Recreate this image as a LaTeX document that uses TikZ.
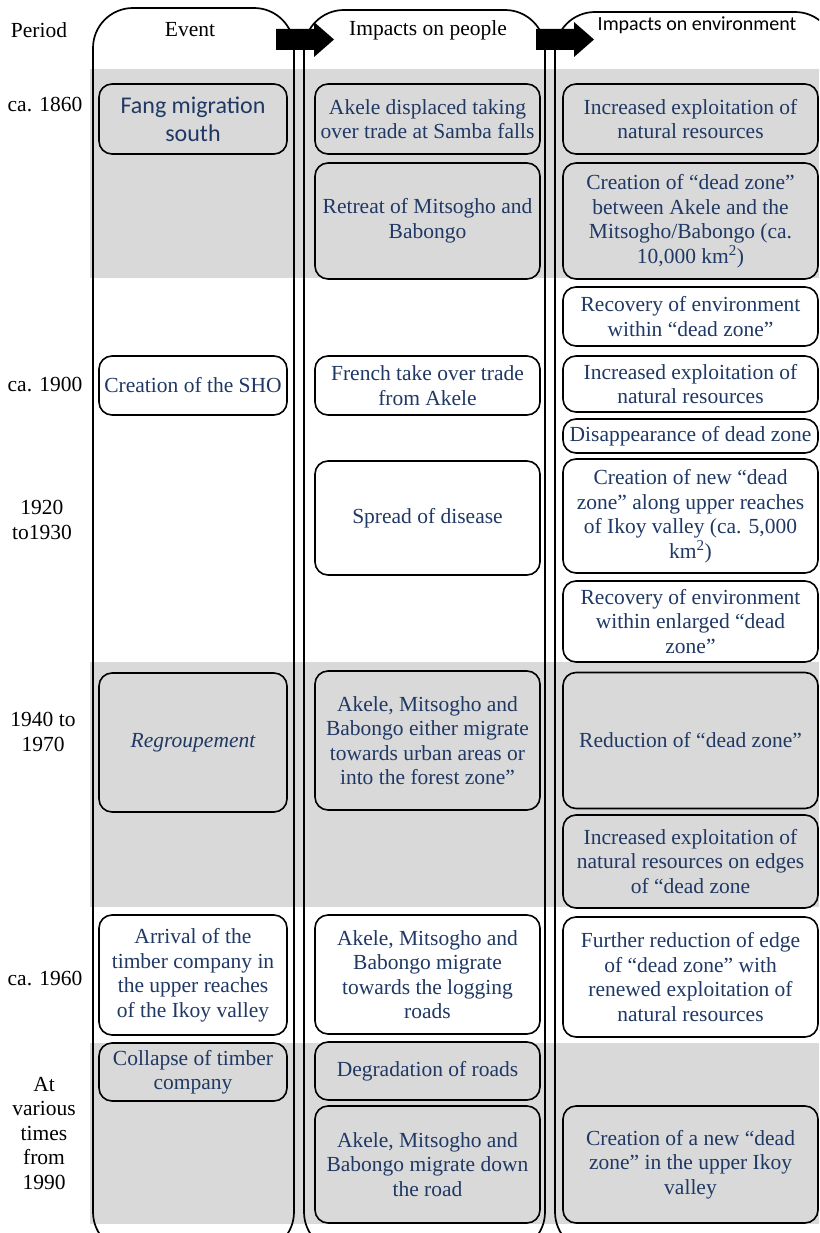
\documentclass[tikz,border=0pt]{standalone}
\usepackage{fontspec}
\setmainfont{Liberation Serif}
\newfontfamily\tnr{Liberation Serif}
\newfontfamily\carl{Carlito}
\definecolor{navy}{RGB}{31,56,100}
\definecolor{band}{RGB}{217,217,217}
\begin{document}
\begin{tikzpicture}[x=1pt,y=-1pt,
  col/.style={draw=black, line width=1.7pt, rounded corners=40pt},
  bx/.style={draw=black, line width=1.6pt, rounded corners=13pt, inner sep=0pt, align=center, text=navy, font=\tnr\fontsize{21.5}{24.5}\selectfont, fill=white},
  gbx/.style={bx, fill=band},
  ew/.style={minimum width=188pt},
  pw/.style={minimum width=225pt},
  nw/.style={minimum width=255pt},
  per/.style={align=center, inner sep=0pt, font=\tnr\fontsize{21.5}{24.5}\selectfont, text=black},
  blk/.style={fill=black, draw=none}
]
\useasboundingbox (0,0) rectangle (819,1233);
\clip (0,0) rectangle (819,1233);
\fill[white] (0,0) rectangle (819,1233);
% grey bands
\fill[band] (90,69) rectangle (819,278);
\fill[band] (90,662) rectangle (819,907);
\fill[band] (90,1043) rectangle (819,1224);
% columns
\draw[col] (93,8) rectangle (294,1252);
\draw[col] (304,10) rectangle (545,1252);
\draw[col] (555,12) rectangle (835,1252);
% headers
\node[per] (hper) at (39,30) {Period};
\node[per] (hev) at (190,30) {Event};
\node[per] (hpe) at (428,30) {Impacts on people};
\node[per, font=\carl\fontsize{20}{24}\selectfont] (hen) at (697,25) {Impacts on environment};
% arrows
\fill[blk] (276,29) -- (314,29) -- (314,22) -- (334,39.5) -- (314,57) -- (314,50) -- (276,50) -- cycle;
\fill[blk] (536,29) -- (574,29) -- (574,22) -- (594,39.5) -- (574,57) -- (574,50) -- (536,50) -- cycle;
% periods
\node[per] (p1) at (45,105) {ca. 1860};
\node[per] (p2) at (45,385) {ca. 1900};
\node[per] (p3) at (42,520) {1920\\to1930};
\node[per] (p4) at (43,732) {1940 to\\1970};
\node[per] (p5) at (45,978) {ca. 1960};
\node[per] (p6) at (44,1133) {At\\various\\times\\from\\1990};
% event column
\node[gbx, ew, minimum height=70pt, font=\carl\fontsize{24}{28}\selectfont] (e1) at (193,119) {Fang migration\\south};
\node[bx, ew, minimum height=59pt] (e2) at (193,385.5) {Creation of the SHO};
\node[gbx, ew, minimum height=139pt] (e3) at (193,742.5) {\itshape Regroupement};
\node[bx, ew, minimum height=120pt] (e4) at (193,975) {Arrival of the\\timber company in\\the upper reaches\\of the Ikoy valley};
\node[gbx, ew, minimum height=58pt] (e5) at (193,1072) {Collapse of timber\\company};
% people column
\node[gbx, pw, minimum height=70pt] (q1) at (427.5,119) {Akele displaced taking\\over trade at Samba falls};
\node[gbx, pw, minimum height=116pt] (q2) at (427.5,221) {Retreat of Mitsogho and\\Babongo};
\node[bx, pw, minimum height=59pt] (q3) at (427.5,385.5) {French take over trade\\from Akele};
\node[bx, pw, minimum height=114pt] (q4) at (427.5,518) {Spread of disease};
\node[gbx, pw, minimum height=139pt] (q5) at (427.5,740.5) {Akele, Mitsogho and\\Babongo either migrate\\towards urban areas or\\into the forest zone”};
\node[bx, pw, minimum height=119pt] (q6) at (427.5,974.5) {Akele, Mitsogho and\\Babongo migrate\\towards the logging\\roads};
\node[gbx, pw, minimum height=58pt] (q7) at (427.5,1071) {Degradation of roads};
\node[gbx, pw, minimum height=117pt] (q8) at (427.5,1164.5) {Akele, Mitsogho and\\Babongo migrate down\\the road};
% environment column
\node[gbx, nw, minimum height=70pt] (n1) at (690.5,119) {Increased exploitation of\\natural resources};
\node[gbx, nw, minimum height=116pt] (n2) at (690.5,221) {Creation of “dead zone”\\between Akele and the\\Mitsogho/Babongo (ca.\\10,000 km\textsuperscript{2})};
\node[bx, nw, minimum height=59pt] (n3) at (690.5,316.5) {Recovery of environment\\within “dead zone”};
\node[bx, nw, minimum height=56pt] (n4) at (690.5,384) {Increased exploitation of\\natural resources};
\node[bx, nw, minimum height=34pt] (n5) at (690.5,436) {Disappearance of dead zone};
\node[bx, nw, minimum height=114pt] (n6) at (690.5,516) {Creation of new “dead\\zone” along upper reaches\\of Ikoy valley (ca. 5,000\\km\textsuperscript{2})};
\node[bx, nw, minimum height=81pt] (n7) at (690.5,621.5) {Recovery of environment\\within enlarged “dead\\zone”};
\node[gbx, nw, minimum height=136pt] (n8) at (690.5,740.5) {Reduction of “dead zone”};
\node[gbx, nw, minimum height=93pt] (n9) at (690.5,861.5) {Increased exploitation of\\natural resources on edges\\of “dead zone};
\node[bx, nw, minimum height=120pt] (n10) at (690.5,977) {Further reduction of edge\\of “dead zone” with\\renewed exploitation of\\natural resources};
\node[gbx, nw, minimum height=117pt] (n11) at (690.5,1164.5) {Creation of a new “dead\\zone” in the upper Ikoy\\valley};
\end{tikzpicture}
\end{document}
